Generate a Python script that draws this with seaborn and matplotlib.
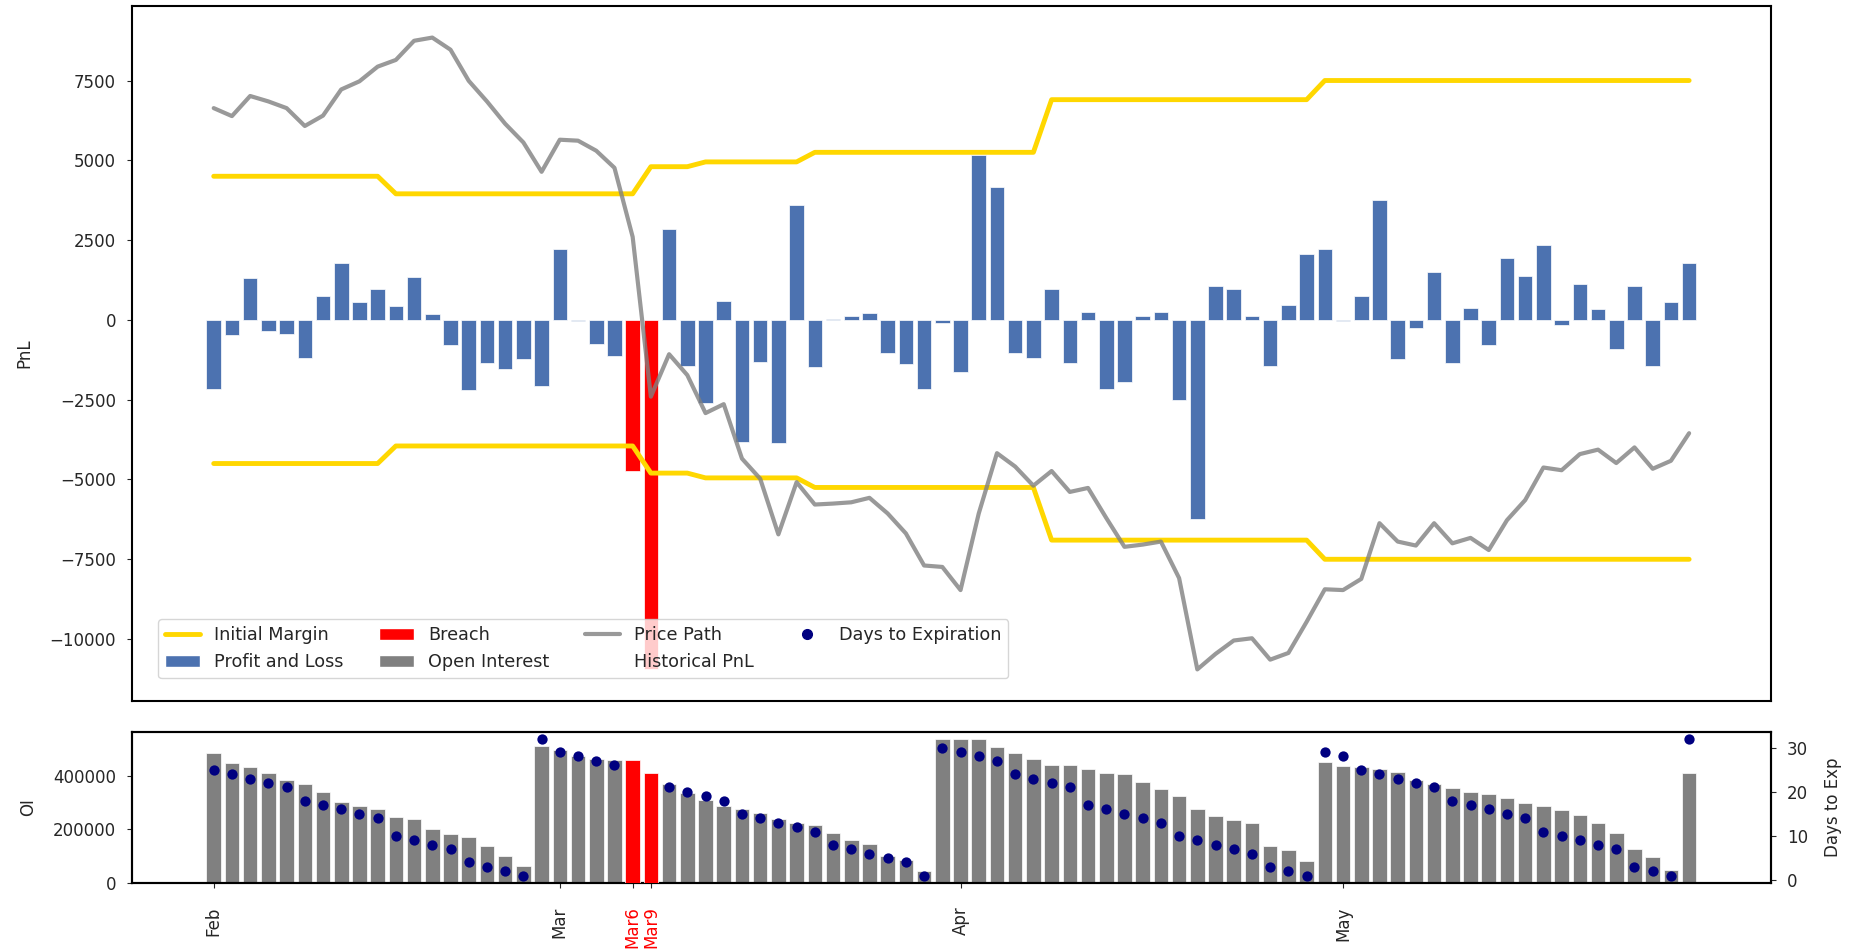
import numpy as np
import pandas as pd
import seaborn as sns
import matplotlib.pyplot as plt
from matplotlib.lines import Line2D
from matplotlib.patches import Patch

# trading days Feb-May 2020
dates = pd.bdate_range("2020-02-03", "2020-05-29", freq="C",
                       holidays=["2020-02-17", "2020-04-10", "2020-05-25"])

pnl = np.array([
    -2150, -475, 1310, -350, -430, -1190, 740, 1790, 570, 965,
    435, 1355, 170, -795, -2205, -1355, -1550, -1215, -2070, 2235,
    -40, -740, -1130, -4735, -10950, 2850, -1455, -2600, 600, -3830,
    -1315, -3870, 3605, -1480, 40, 125, 210, -1050, -1395, -2150,
    -85, -1620, 5180, 4165, -1050, -1185, 965, -1355, 250, -2150,
    -1940, 125, 250, -2515, -6245, 1050, 965, 125, -1455, 475,
    2070, 2235, -40, 755, 3770, -1215, -265, 1510, -1355, 365,
    -795, 1930, 1370, 2335, -170, 1120, 335, -920, 1050, -1455,
    575, 1790])

init_margin = np.array(
    [4500] * 10 + [3950] * 14 + [4800] * 3 + [4950] * 6 + [5250] * 13
    + [6900] * 15 + [7500] * 21)

# price path, already rescaled to the PnL axis
price_path = np.array([
    6635, 6385, 7015, 6845, 6635, 6075, 6400, 7220, 7475, 7935,
    8145, 8745, 8845, 8465, 7490, 6845, 6145, 5560, 4640, 5645,
    5615, 5300, 4765, 2600, -2405, -1075, -1730, -2920, -2640, -4345,
    -4975, -6720, -5085, -5785, -5755, -5715, -5575, -6065, -6690, -7695,
    -7740, -8465, -6065, -4175, -4595, -5195, -4735, -5390, -5265, -6205,
    -7110, -7040, -6945, -8090, -10950, -10465, -10045, -9975, -10645, -10435,
    -9460, -8440, -8465, -8115, -6370, -6945, -7070, -6370, -7000, -6830,
    -7210, -6275, -5645, -4625, -4710, -4205, -4065, -4485, -3995, -4665,
    -4415, -3550])

open_interest = np.array([
    486000, 448000, 433000, 410000, 384000, 372000, 342000, 304000, 289000, 278000,
    246000, 240000, 202000, 182000, 170000, 139000, 101000, 64000, 513000, 497000,
    474000, 463000, 461000, 459000, 410000, 372000, 335000, 309000, 289000, 278000,
    261000, 240000, 225000, 215000, 187000, 160000, 145000, 101000, 85000, 43000,
    539000, 539000, 539000, 508000, 486000, 465000, 443000, 443000, 427000, 410000,
    407000, 379000, 353000, 326000, 278000, 251000, 235000, 225000, 139000, 122000,
    81000, 453000, 438000, 433000, 427000, 417000, 385000, 369000, 357000, 341000,
    331000, 319000, 299000, 288000, 271000, 255000, 225000, 186000, 127000, 96000,
    48000, 410000])

days_to_exp = np.array([
    25, 24, 23, 22, 21, 18, 17, 16, 15, 14, 10, 9, 8, 7, 4, 3, 2, 1,
    32, 29, 28, 27, 26, 25, 22, 21, 20, 19, 18, 15, 14, 13, 12, 11, 8, 7, 6, 5, 4, 1,
    30, 29, 28, 27, 24, 23, 22, 21, 17, 16, 15, 14, 13, 10, 9, 8, 7, 6, 3, 2, 1,
    29, 28, 25, 24, 23, 22, 21, 18, 17, 16, 15, 14, 11, 10, 9, 8, 7, 3, 2, 1, 32])

pos = np.arange(len(dates))
breach = np.abs(pnl) > init_margin
status = np.where(breach, "Breach", "PnL")

sns.set_style("ticks")
plt.rcParams["font.family"] = ["DejaVu Sans"]
plt.rcParams["axes.edgecolor"] = "black"
plt.rcParams["axes.linewidth"] = 1.5

fig = plt.figure(figsize=(18.53, 9.51), dpi=100)
ax = fig.add_axes([0.0712, 0.2629, 0.8845, 0.7308])
ax_oi = fig.add_axes([0.0712, 0.0720, 0.8845, 0.1583], sharex=ax)

# top: pnl bars, margins, price
sns.barplot(x=pos, y=pnl, hue=status, palette={"PnL": "#4C72B0", "Breach": "red"},
            native_scale=True, dodge=False, errorbar=None, saturation=1,
            legend=False, linewidth=0.5, ax=ax)
sns.lineplot(x=pos, y=init_margin, color="gold", lw=3.5, ax=ax)
sns.lineplot(x=pos, y=-init_margin, color="gold", lw=3.5, ax=ax)
sns.lineplot(x=pos, y=price_path, color="grey", alpha=0.8, lw=3, ax=ax)
ax.set_ylabel("PnL", fontsize=12, labelpad=11.5)
ax.tick_params(axis="x", bottom=False, labelbottom=False)
ax.tick_params(axis="y", labelsize=12, pad=8)

# bottom: open interest + days to expiry
sns.barplot(x=pos[~breach], y=open_interest[~breach], color="grey", saturation=1,
            native_scale=True, errorbar=None, linewidth=0.5, ax=ax_oi)
ax_dte = ax_oi.twinx()
sns.scatterplot(x=pos, y=days_to_exp, color="navy", s=55, linewidth=0, ax=ax_dte, zorder=2)
# red OI bars drawn above the dots, in OI units
red = ax_dte.bar(pos[breach], open_interest[breach], width=0.8, color="red",
                 linewidth=0.5, transform=ax_oi.transData, zorder=3)
for b in red:
    b.sticky_edges.y.clear()
ax_dte.autoscale_view()

ax_oi.set_ylabel("OI", fontsize=12, labelpad=11.5)
ax_dte.set_ylabel("Days to Exp", fontsize=12, labelpad=11.5)
ax_oi.tick_params(axis="y", labelsize=12, pad=8)
ax_dte.tick_params(axis="y", labelsize=12, pad=8)

# month ticks plus breach days
month_start = [i for i in pos if i == 0 or dates[i].month != dates[i - 1].month]
tick_pos = sorted(month_start + list(pos[breach]))
tick_lab = [dates[i].strftime("%b") if i in month_start else dates[i].strftime("%b") + str(dates[i].day)
            for i in tick_pos]
ax_oi.set_xticks(tick_pos)
ax_oi.set_xticklabels(tick_lab, rotation=90, fontsize=12)
ax_oi.tick_params(axis="x", pad=13.5)
for t, i in zip(ax_oi.get_xticklabels(), tick_pos):
    if breach[i]:
        t.set_color("red")

handles = [
    Line2D([], [], color="gold", lw=3.5),
    Patch(facecolor="#4C72B0"),
    Patch(facecolor="red"),
    Patch(facecolor="grey"),
    Line2D([], [], color="grey", alpha=0.8, lw=3),
    Line2D([], [], color="none"),
    Line2D([], [], color="navy", marker="o", linestyle="none", markersize=7),
]
labels = ["Initial Margin", "Profit and Loss", "Breach", "Open Interest",
          "Price Path", "Historical PnL", "Days to Expiration"]
ax.legend(handles, labels, ncol=4, loc="lower left", bbox_to_anchor=(0.0159, 0.033),
          borderaxespad=0, fontsize=12.7)

fig.savefig("out.png", dpi=100)
